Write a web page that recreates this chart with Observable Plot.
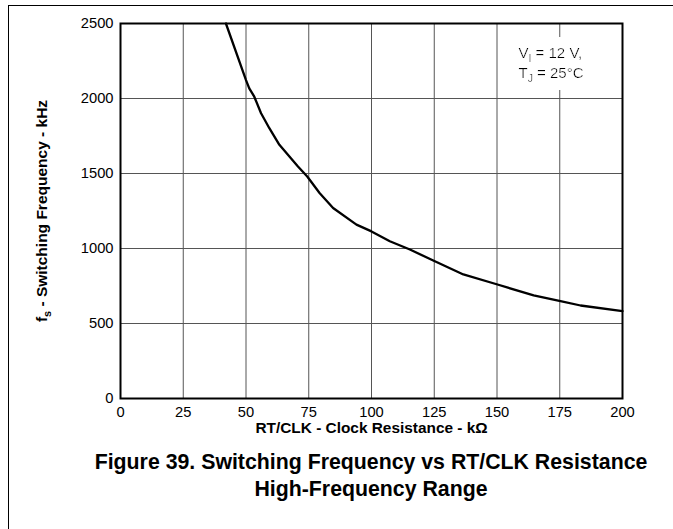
<!DOCTYPE html>
<html><head><meta charset="utf-8">
<script src="https://cdn.jsdelivr.net/npm/d3@7"></script>
<script src="https://cdn.jsdelivr.net/npm/@observablehq/plot@0.6"></script>
<style>
html,body{margin:0;padding:0;background:#fff;}
#page{position:relative;width:673px;height:529px;overflow:hidden;font-family:"Liberation Sans",Arial,sans-serif;}
#border{position:absolute;left:8px;top:5px;right:-2px;bottom:-2px;border-top:1px solid #000;border-left:1px solid #000;}
#chart{position:absolute;left:0;top:0;}
#caption{position:absolute;left:71px;width:600px;top:449px;text-align:center;font-weight:bold;font-size:21.3px;line-height:27px;color:#000;}
</style></head>
<body><div id="page"><div id="border"></div><div id="chart"></div><div id="caption"></div></div>
<script>
// Curve (RT/CLK resistance in kΩ, switching frequency in kHz)
const resistance = [42, 50, 51.3, 53.3, 56, 59.3, 63.3, 67.3, 70.7, 74.4, 79.3, 84.7, 94, 100, 107.3, 115.3, 124.6, 136.6, 150.2, 164.6, 175.3, 183.3, 200];
const frequency  = [2500, 2123, 2068, 2012, 1902, 1802, 1691, 1613, 1547, 1480, 1370, 1270, 1159, 1114, 1048, 993, 920, 827, 760, 687, 649, 620, 583];
const xTicks = [0, 25, 50, 75, 100, 125, 150, 175, 200];
const yTicks = [0, 500, 1000, 1500, 2000, 2500];
const xLabel = "RT/CLK - Clock Resistance - kΩ";
const yLabel = "f_s - Switching Frequency - kHz";
const notes = ["V_I = 12 V,", "T_J = 25°C"];
const titleLines = ["Figure 39. Switching Frequency vs RT/CLK Resistance", "High-Frequency Range"];

const data = resistance.map((r, i) => ({r, f: frequency[i]}));

const chart = Plot.plot({
  width: 673, height: 440,
  marginTop: 23, marginRight: 51, marginBottom: 42, marginLeft: 120,
  style: {fontFamily: "'Liberation Sans', Arial, sans-serif", fontSize: "15px", color: "#000", background: "transparent"},
  x: {type: "linear", domain: [0, 200]},
  y: {type: "linear", domain: [0, 2500]},
  marks: [
    Plot.gridX(xTicks, {stroke: "#555", strokeOpacity: 1, strokeWidth: 1}),
    Plot.gridY(yTicks, {stroke: "#555", strokeOpacity: 1, strokeWidth: 1}),
    Plot.axisX(xTicks, {tickSize: 0, tickPadding: 8, fontSize: 14.7, label: null, tickFormat: d => String(d)}),
    Plot.axisY(yTicks, {tickSize: 0, tickPadding: 7, fontSize: 14.7, label: null, tickFormat: d => String(d)}),
    Plot.text([xLabel], {frameAnchor: "bottom", textAnchor: "middle", lineAnchor: "bottom", dy: 34.5, fontWeight: "bold", fontSize: 15.4, fill: "#000"}),
    Plot.text([yLabel], {frameAnchor: "left", textAnchor: "middle", lineAnchor: "top", rotate: -90, dx: -85, fontWeight: "bold", fontSize: 15.5, fill: "#000"}),
    Plot.text([notes.join("\n")], {frameAnchor: "top-left", textAnchor: "start", lineAnchor: "top", dx: 398, dy: 20.6, lineHeight: 1.333, fontSize: 15, fill: "#000"}),
    Plot.line(data, {x: "r", y: "f", stroke: "#000", strokeWidth: 2.3, curve: "linear"}),
    Plot.frame({stroke: "#000", strokeWidth: 2})
  ]
});
document.getElementById("chart").appendChild(chart);
document.getElementById("caption").innerHTML = titleLines.map(t => `<div>${t}</div>`).join("");

// Subscripts: "X_y" -> X with subscript y
const NS = "http://www.w3.org/2000/svg";
function subscripts(root) {
  const walker = document.createTreeWalker(root, NodeFilter.SHOW_TEXT);
  const nodes = [];
  while (walker.nextNode()) if (/_./.test(walker.currentNode.nodeValue)) nodes.push(walker.currentNode);
  for (const node of nodes) {
    const parts = node.nodeValue.split(/_(.)/);
    const frag = document.createDocumentFragment();
    for (let i = 0; i < parts.length; i++) {
      if (i === 0) { if (parts[0]) frag.appendChild(document.createTextNode(parts[0])); }
      else if (i % 2 === 1) {
        const s = document.createElementNS(NS, "tspan");
        s.setAttribute("dy", "4"); s.setAttribute("font-size", "70%"); s.textContent = parts[i];
        frag.appendChild(s);
        const b = document.createElementNS(NS, "tspan");
        b.setAttribute("dy", "-4"); b.textContent = parts[i + 1] || "\u200b";
        frag.appendChild(b);
        i++;
      }
    }
    node.parentNode.replaceChild(frag, node);
  }
}
subscripts(chart);

// White box behind the conditions note
const defs = document.createElementNS(NS, "defs");
defs.innerHTML = `<filter id="notebg" x="-0.15" y="-0.16" width="1.35" height="1.3"><feFlood flood-color="#fff"/><feMerge><feMergeNode/><feMergeNode in="SourceGraphic"/></feMerge></filter>`;
chart.insertBefore(defs, chart.firstChild);
for (const t of chart.querySelectorAll("text")) {
  if (t.textContent.includes("12 V")) { t.closest("g").setAttribute("filter", "url(#notebg)"); break; }
}
</script>
</body></html>
